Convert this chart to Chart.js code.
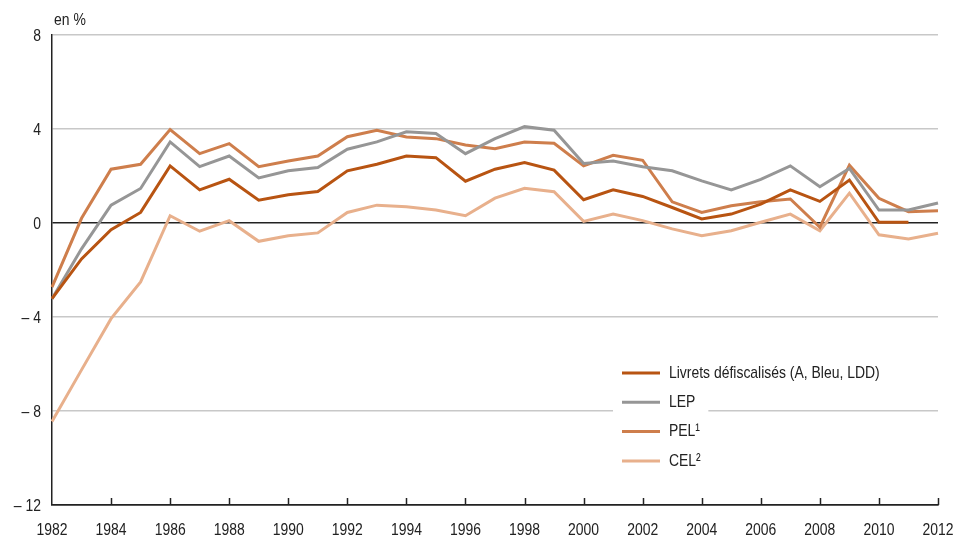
<!DOCTYPE html>
<html>
<head>
<meta charset="utf-8">
<script src="https://cdn.jsdelivr.net/npm/chart.js@4.4.0/dist/chart.umd.min.js"></script>
<style>
  body { margin: 0; background: #fff; }
  #wrap { width: 965px; height: 543px; position: relative; }
</style>
</head>
<body>
<div id="wrap"><canvas id="graf"></canvas></div>
<script>
// donnees (en %)
const annees = [1982, 1983, 1984, 1985, 1986, 1987, 1988, 1989, 1990, 1991, 1992, 1993, 1994, 1995, 1996,
    1997, 1998, 1999, 2000, 2001, 2002, 2003, 2004, 2005, 2006, 2007, 2008, 2009, 2010, 2011, 2012];
const livrets = [-3.22, -1.53, -0.28, 0.45, 2.43, 1.41, 1.86, 0.97, 1.2, 1.34, 2.22, 2.5, 2.85, 2.78, 1.78,
    2.29, 2.57, 2.25, 0.99, 1.41, 1.13, 0.66, 0.17, 0.38, 0.8, 1.41, 0.92, 1.83, 0.03, 0.03, null];
const lep = [-3.22, -1.1, 0.76, 1.47, 3.45, 2.4, 2.85, 1.92, 2.22, 2.36, 3.14, 3.45, 3.88, 3.81, 2.95,
    3.59, 4.1, 3.95, 2.53, 2.64, 2.39, 2.22, 1.79, 1.41, 1.86, 2.43, 1.54, 2.32, 0.55, 0.55, 0.85];
const pel = [-2.73, 0.2, 2.29, 2.5, 3.98, 2.95, 3.38, 2.4, 2.64, 2.85, 3.67, 3.95, 3.66, 3.59, 3.32,
    3.16, 3.45, 3.39, 2.43, 2.88, 2.67, 0.9, 0.45, 0.73, 0.9, 1.02, -0.18, 2.46, 1.05, 0.48, 0.52];
const cel = [-8.45, -6.25, -4.07, -2.51, 0.31, -0.35, 0.1, -0.78, -0.54, -0.42, 0.45, 0.76, 0.69, 0.55, 0.31,
    1.06, 1.48, 1.33, 0.07, 0.38, 0.1, -0.25, -0.54, -0.33, 0.03, 0.38, -0.33, 1.27, -0.5, -0.68, -0.44];
const ticksY = [8, 4, 0, -4, -8, -12];

const police = '17px "Liberation Sans", Arial, sans-serif';
const serre = 0.82; // police etroite simulee
const couleurs = ['rgb(184, 84, 18)', 'rgb(150, 150, 150)', 'rgb(206, 126, 76)', 'rgb(232, 176, 140)'];
const noms = ['Livrets défiscalisés (A, Bleu, LDD)', 'LEP', 'PEL¹', 'CEL²'];

function texte(ctx, str, x, y, align) {
    ctx.save();
    ctx.translate(x, y);
    ctx.scale(serre, 1);
    ctx.textAlign = align;
    ctx.textBaseline = 'middle';
    ctx.fillText(str, 0, 0);
    ctx.restore();
}

// libelles des axes, petits traits, titre et legende
const decorPlugin = {
    id: 'decorPlugin',
    afterDatasetsDraw: (chart) => {
        const { ctx, chartArea: { top, bottom, left }, scales: { x, y } } = chart;
        ctx.save();
        ctx.strokeStyle = '#222';
        ctx.lineWidth = 1.5;
        ctx.fillStyle = '#222';
        ctx.font = police;
        annees.forEach((a, i) => {
            if (i % 2 == 0) {
                const px = x.getPixelForValue(i);
                if (i > 0) {
                    ctx.beginPath();
                    ctx.moveTo(Math.round(px) + 0.5, bottom);
                    ctx.lineTo(Math.round(px) + 0.5, bottom - 7);
                    ctx.stroke();
                }
                texte(ctx, String(a), px, bottom + 25, 'center');
            }
        });
        ticksY.forEach((v) => {
            const lab = v < 0 ? '– ' + Math.abs(v) : String(v);
            texte(ctx, lab, left - 11, y.getPixelForValue(v) + 1, 'right');
        });

        texte(ctx, 'en %', left + 2, top - 15, 'left');

        // legende dans le graphique
        const lx = 622, ly = 373, pas = 29.3;
        noms.forEach((nom, i) => {
            const yy = ly + i * pas;
            const w = ctx.measureText(nom).width * serre;
            ctx.fillStyle = '#fff';
            ctx.fillRect(lx - 9, yy - 11, 47 + w + 22, 22);
            ctx.strokeStyle = couleurs[i];
            ctx.lineWidth = 3;
            ctx.beginPath();
            ctx.moveTo(lx, yy);
            ctx.lineTo(lx + 38, yy);
            ctx.stroke();
            ctx.fillStyle = '#222';
            texte(ctx, nom, lx + 47, yy, 'left');
        });
        ctx.restore();
    }
};

const series = [livrets, lep, pel, cel];
const config = {
    type: 'line',
    data: {
        labels: annees,
        datasets: series.map((s, i) => ({
            label: noms[i],
            data: s,
            borderColor: couleurs[i],
            backgroundColor: couleurs[i],
            borderWidth: 3,
            pointRadius: 0,
            tension: 0,
            fill: false,
            spanGaps: false
        }))
    },
    options: {
        responsive: true,
        maintainAspectRatio: false,
        animation: false,
        layout: { padding: { top: 35, right: 27, left: 0, bottom: 0 } },
        plugins: {
            legend: { display: false },
            tooltip: { enabled: false }
        },
        scales: {
            x: {
                type: 'category',
                offset: false,
                grid: { display: false, drawTicks: false },
                border: { color: '#222', width: 1.5 },
                ticks: { display: false },
                afterFit: (s) => { s.height = 38; }
            },
            y: {
                min: -12,
                max: 8,
                afterBuildTicks: (s) => { s.ticks = ticksY.map(v => ({ value: v })); },
                grid: {
                    drawTicks: false,
                    lineWidth: 1.5,
                    color: (c) => (c.tick.value == 0 || c.tick.value == -12) ? '#222' : '#c8c8c8'
                },
                border: { color: '#222', width: 1.5 },
                ticks: { display: false },
                afterFit: (s) => { s.width = 52; }
            }
        }
    },
    plugins: [decorPlugin]
};

const graf = new Chart(document.getElementById('graf'), config);
</script>
</body>
</html>
